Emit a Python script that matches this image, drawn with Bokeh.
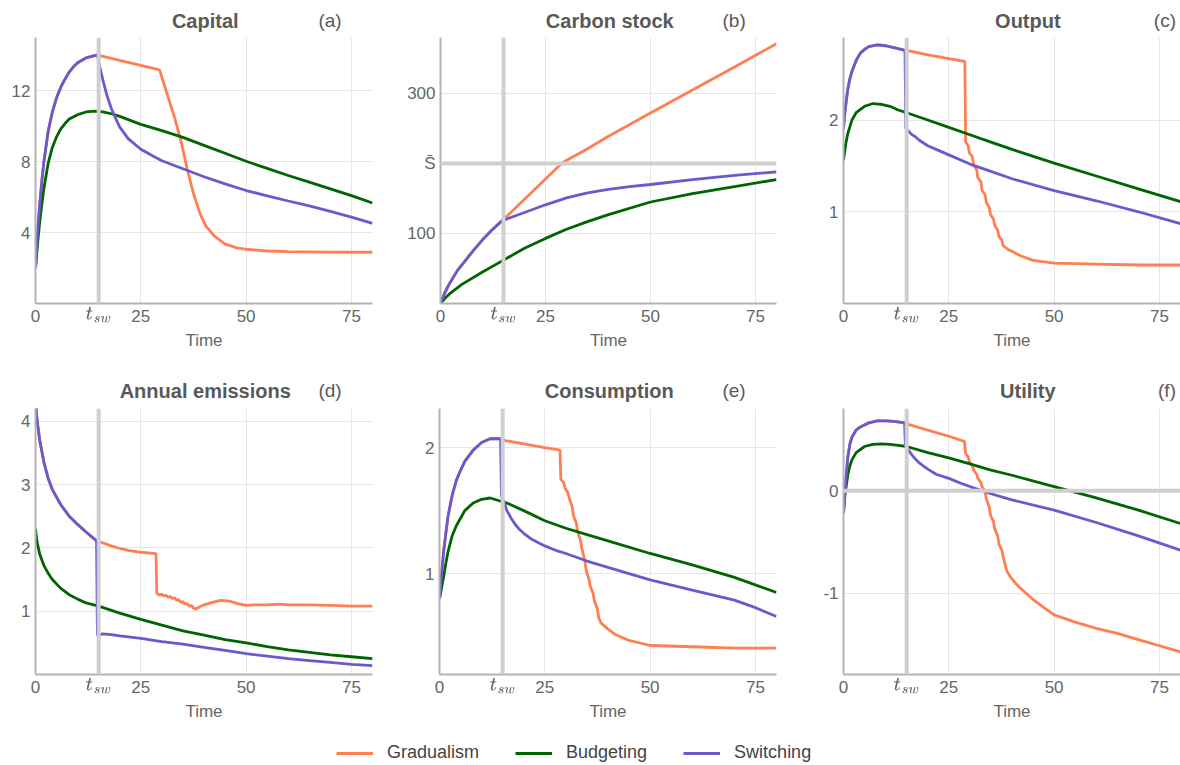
from bokeh.plotting import figure
from bokeh.models import Span, Label, FixedTicker, Legend, LegendItem, TeX
from bokeh.layouts import column, row
from bokeh.embed import file_html
from bokeh.resources import INLINE

FONT = "Liberation Sans"
C_G = "#ff7f50"
C_B = "#006400"
C_S = "#6a5acd"
GREY_TXT = "#595959"
TICK_TXT = "#666666"
T_SW = 15
X_TICKS = [0, 15, 25, 50, 75]
SERIES = ["Gradualism", "Budgeting", "Switching"]

# ---------------- (a) Capital ----------------
cap_pre_t = [0, 0.5, 1, 1.5, 2, 3, 4, 5, 6, 7, 8, 9, 10, 12, 14, 14.6]
cap_pre = [2.0, 4.0, 5.6, 6.9, 8.0, 9.7, 10.8, 11.6, 12.2, 12.65, 13.05, 13.35, 13.58, 13.85, 13.98, 14.0]
cap_g_t = [16, 20, 25, 29, 29.5, 31, 33, 34.5, 36, 37.5, 39, 40.5, 42.5, 45, 48, 50, 55, 60, 70, 80]
cap_g = [13.94, 13.71, 13.43, 13.2, 13.15, 12.0, 10.5, 9.2, 7.6, 6.2, 5.1, 4.35, 3.8, 3.35, 3.12, 3.06, 2.96, 2.92, 2.9, 2.89]
cap_s_t = [14.8, 15.2, 16, 17, 18, 19, 20, 22, 25, 28, 30, 35, 40, 45, 50, 55, 60, 65, 70, 75, 80]
cap_s = [13.9, 13.4, 12.6, 11.7, 11.0, 10.45, 9.95, 9.3, 8.7, 8.3, 8.05, 7.6, 7.15, 6.75, 6.37, 6.07, 5.78, 5.5, 5.2, 4.87, 4.52]
cap_b_t = [0, 0.5, 1, 1.5, 2, 3, 4, 5, 6, 7, 8, 10, 12, 14, 16, 18, 20, 25, 30, 35, 40, 45, 50, 55, 60, 65, 70, 75, 80]
cap_b = [2.0, 3.4, 4.6, 5.6, 6.5, 7.9, 8.8, 9.4, 9.85, 10.15, 10.4, 10.65, 10.8, 10.85, 10.8, 10.7, 10.55, 10.1, 9.75, 9.37, 8.92, 8.47, 8.02, 7.62, 7.22, 6.84, 6.46, 6.08, 5.67]

# ---------------- (b) Carbon stock ----------------
car_pre_t = [0, 1, 2, 4, 6, 8, 10, 12, 14.6]
car_pre = [0, 15, 27, 47, 62, 77, 91, 103.5, 118]
car_g_t = [15, 20, 25, 29, 35, 40, 50, 60, 70, 80]
car_g = [120, 149, 178, 201, 221, 239, 272, 305, 338, 371]
car_s_t = [15, 20, 25, 30, 35, 40, 45, 50, 60, 70, 80]
car_s = [119, 130, 141, 151, 158, 163, 167, 170, 177, 183, 188]
car_b_t = [0, 1, 2, 5, 10, 15, 20, 25, 30, 35, 40, 50, 60, 70, 80]
car_b = [0, 7, 13, 27, 45, 62, 79, 93, 106, 117, 127, 145, 157, 167, 177]
S_BAR = 200

# ---------------- (c) Output ----------------
out_pre_t = [0, 0.25, 0.5, 1, 1.5, 2, 3, 4, 5, 6, 8, 10, 12, 14.6]
out_pre = [1.9, 2.05, 2.15, 2.33, 2.45, 2.53, 2.65, 2.73, 2.77, 2.8, 2.82, 2.81, 2.79, 2.76]
out_g_t = [15, 20, 25, 28.8, 29.0, 29.6, 29.9, 30.6, 30.9, 31.6, 31.9, 32.6, 32.9, 33.6, 33.9, 34.6, 34.9,
           35.6, 35.9, 36.6, 36.9, 37.6, 37.9, 38.5, 39, 40, 42, 45, 50, 60, 70, 80]
out_g = [2.76, 2.71, 2.67, 2.64, 1.76, 1.72, 1.64, 1.60, 1.51, 1.46, 1.37, 1.33, 1.23, 1.19, 1.10, 1.05, 0.97,
         0.92, 0.85, 0.80, 0.73, 0.69, 0.63, 0.61, 0.59, 0.57, 0.52, 0.47, 0.44, 0.43, 0.42, 0.42]
out_s_t = [14.8, 16, 17, 18, 20, 22, 25, 30, 35, 40, 50, 60, 70, 80]
out_s = [1.91, 1.85, 1.82, 1.78, 1.72, 1.68, 1.62, 1.52, 1.44, 1.36, 1.23, 1.12, 1.0, 0.87]
out_b_t = [0, 0.5, 1, 2, 3, 5, 7, 9, 11, 13, 15, 20, 25, 30, 35, 40, 50, 60, 70, 80]
out_b = [1.56, 1.73, 1.85, 2.0, 2.08, 2.15, 2.18, 2.17, 2.15, 2.11, 2.08, 2.0, 1.92, 1.84, 1.76, 1.68, 1.53, 1.39, 1.25, 1.11]

# ---------------- (d) Annual emissions ----------------
emi_pre_t = [0, 0.25, 0.5, 1, 2, 3, 4, 6, 8, 10, 12, 14.5]
emi_pre = [4.3, 4.1, 3.95, 3.7, 3.35, 3.1, 2.92, 2.68, 2.5, 2.37, 2.25, 2.11]
emi_g_t = [15, 18, 20, 22, 25, 28.6, 28.8, 29.5, 30, 30.5, 31, 31.5, 32, 32.5, 33, 33.5, 34, 34.5, 35, 35.5,
           36, 36.5, 37, 37.5, 38, 38.5, 39, 40, 42, 44, 46, 48, 50, 52, 55, 58, 60, 65, 70, 75, 80]
emi_g = [2.1, 2.03, 1.99, 1.96, 1.93, 1.91, 1.28, 1.25, 1.27, 1.24, 1.25, 1.22, 1.23, 1.20, 1.21, 1.17, 1.18, 1.14, 1.15, 1.11,
         1.12, 1.08, 1.09, 1.05, 1.03, 1.05, 1.07, 1.10, 1.14, 1.17, 1.16, 1.12, 1.09, 1.10, 1.10, 1.11, 1.10, 1.10, 1.09, 1.08, 1.08]
emi_s_t = [14.7, 16, 18, 20, 25, 30, 35, 40, 45, 50, 55, 60, 65, 70, 75, 80]
emi_s = [0.62, 0.64, 0.63, 0.61, 0.57, 0.52, 0.48, 0.43, 0.38, 0.33, 0.29, 0.25, 0.22, 0.19, 0.16, 0.14]
emi_b_t = [0, 0.25, 0.5, 1, 2, 3, 4, 6, 8, 10, 12, 15, 20, 25, 30, 35, 40, 45, 50, 55, 60, 65, 70, 75, 80]
emi_b = [2.3, 2.15, 2.05, 1.9, 1.72, 1.6, 1.5, 1.36, 1.26, 1.19, 1.13, 1.08, 0.97, 0.87, 0.78, 0.69, 0.62, 0.55, 0.5, 0.44, 0.39, 0.35, 0.31, 0.28, 0.25]

# ---------------- (e) Consumption ----------------
con_pre_t = [0, 0.25, 0.5, 1, 1.5, 2, 3, 4, 5, 6, 8, 10, 12, 14, 14.5]
con_pre = [0.8, 0.9, 1.0, 1.18, 1.32, 1.45, 1.62, 1.74, 1.82, 1.89, 1.98, 2.04, 2.07, 2.07, 2.07]
con_g_t = [15, 20, 25, 28.6, 28.8, 29.5, 29.8, 30.5, 30.8, 31.5, 31.8, 32.5, 32.8, 33.5, 33.8, 34.5, 34.8,
           35.5, 35.8, 36.5, 36.8, 37.5, 37.8, 38.3, 39, 40, 41.6, 45, 50, 60, 70, 80]
con_g = [2.06, 2.03, 2.0, 1.98, 1.75, 1.72, 1.68, 1.64, 1.60, 1.53, 1.46, 1.40, 1.33, 1.26, 1.20, 1.10, 1.03,
         0.95, 0.90, 0.84, 0.78, 0.72, 0.65, 0.61, 0.59, 0.56, 0.52, 0.47, 0.43, 0.42, 0.41, 0.41]
con_s_t = [14.7, 15.5, 16, 17, 18, 19, 20, 22, 25, 28, 30, 35, 40, 50, 60, 70, 75, 80]
con_s = [1.62, 1.55, 1.5, 1.44, 1.39, 1.35, 1.32, 1.27, 1.22, 1.18, 1.16, 1.1, 1.05, 0.95, 0.87, 0.79, 0.73, 0.66]
con_b_t = [0, 0.5, 1, 1.5, 2, 3, 4, 6, 8, 10, 12, 14, 16, 20, 25, 30, 35, 40, 50, 60, 70, 80]
con_b = [0.8, 0.89, 0.98, 1.08, 1.17, 1.3, 1.38, 1.5, 1.56, 1.59, 1.6, 1.58, 1.56, 1.5, 1.42, 1.36, 1.31, 1.26, 1.16, 1.07, 0.97, 0.85]

# ---------------- (f) Utility ----------------
uti_pre_t = [0, 0.25, 0.5, 1, 1.5, 2, 3, 4, 6, 8, 10, 12, 14.5]
uti_pre = [-0.22, -0.05, 0.07, 0.32, 0.45, 0.52, 0.59, 0.62, 0.66, 0.68, 0.68, 0.675, 0.66]
uti_g_t = [15, 20, 25, 28.7, 29.0, 29.6, 29.9, 30.6, 30.9, 31.6, 31.9, 32.6, 32.9, 33.6, 33.9, 34.6, 34.9,
           35.6, 35.9, 36.6, 36.9, 37.6, 37.9, 38.6, 39, 40, 41, 42, 45, 48, 50, 55, 60, 65, 70, 75, 80]
uti_g = [0.65, 0.59, 0.53, 0.48, 0.36, 0.33, 0.28, 0.24, 0.20, 0.16, 0.12, 0.08, 0.04, -0.01, -0.08, -0.16, -0.24,
         -0.30, -0.37, -0.44, -0.52, -0.58, -0.64, -0.76, -0.8, -0.86, -0.91, -0.95, -1.06, -1.15, -1.21, -1.28, -1.34, -1.39, -1.45, -1.51, -1.57]
uti_s_t = [14.7, 15.5, 16, 17, 18, 19, 20, 22, 25, 28, 30, 35, 40, 50, 60, 70, 80]
uti_s = [0.43, 0.39, 0.36, 0.31, 0.27, 0.24, 0.21, 0.16, 0.12, 0.07, 0.04, -0.03, -0.09, -0.19, -0.31, -0.44, -0.58]
uti_b_t = [0, 0.25, 0.5, 1, 1.5, 2, 3, 5, 7, 9, 11, 13, 15, 20, 25, 30, 35, 40, 50, 60, 70, 80]
uti_b = [-0.22, -0.08, 0.0, 0.15, 0.24, 0.3, 0.37, 0.43, 0.45, 0.455, 0.45, 0.44, 0.43, 0.37, 0.32, 0.26, 0.2, 0.15, 0.04, -0.07, -0.19, -0.32]


def header(title, letter, width, height):
    h = figure(width=width, height=height, x_range=(0, width), y_range=(0, height),
               toolbar_location=None, output_backend="svg",
               x_axis_location=None, y_axis_location=None, min_border=0)
    h.outline_line_color = None
    h.grid.visible = False
    yc = height - 20  # vertical centre of the title text, 20 px below the top
    h.add_layout(Label(x=35 + 337 / 2, y=yc, text=title, text_align="center",
                       text_baseline="middle", text_font=FONT, text_font_size="20px",
                       text_font_style="bold", text_color=GREY_TXT))
    h.add_layout(Label(x=367, y=yc, text=letter, text_align="right",
                       text_baseline="middle", text_font=FONT, text_font_size="19px",
                       text_color=GREY_TXT))
    return h


def make_panel(title, letter, pre_t, pre_v, g_t, g_v, s_t, s_v, b_t, b_v, yr, yticks,
               yover=None, hline=None, width=404, br=32, height=370, bt=37, bb=67):
    p = figure(width=width, height=height - bt, x_range=(0, 80), y_range=yr,
               toolbar_location=None, output_backend="svg",
               min_border_left=35, min_border_right=br, min_border_top=0, min_border_bottom=bb)
    p.outline_line_color = None
    p.background_fill_color = "white"

    p.xaxis.ticker = FixedTicker(ticks=X_TICKS)
    p.xaxis.major_label_overrides = {15: TeX(text=r"t_{sw}")}
    p.yaxis.ticker = FixedTicker(ticks=yticks)
    if yover:
        p.yaxis.major_label_overrides = yover
    for ax in (p.xaxis, p.yaxis):
        ax.axis_line_color = "#b3b3b3"
        ax.axis_line_width = 2
        ax.major_tick_line_color = None
        ax.minor_tick_line_color = None
        ax.major_tick_out = 0
        ax.major_tick_in = 0
        ax.minor_tick_out = 0
        ax.major_label_text_font = FONT
        ax.major_label_text_font_size = "17px"
        ax.major_label_text_color = TICK_TXT
    p.xaxis.major_label_standoff = 3
    p.yaxis.major_label_standoff = 5
    p.xaxis.axis_label = "Time"
    p.xaxis.axis_label_text_font = FONT
    p.xaxis.axis_label_text_font_size = "17px"
    p.xaxis.axis_label_text_font_style = "normal"
    p.xaxis.axis_label_text_color = TICK_TXT
    p.xaxis.axis_label_standoff = 2
    p.grid.grid_line_color = "#e6e6e6"
    p.grid.grid_line_width = 1

    p.add_layout(Span(location=T_SW, dimension="height", line_color="#cfcfcf", line_width=4))
    if hline is not None:
        p.add_layout(Span(location=hline, dimension="width", line_color="#cfcfcf", line_width=4))

    p.line(pre_t + g_t, pre_v + g_v, line_color=C_G, line_width=2.8)
    p.line(b_t, b_v, line_color=C_B, line_width=2.8)
    p.line(pre_t + s_t, pre_v + s_v, line_color=C_S, line_width=2.8)

    return column(header(title, letter, width, bt), p, spacing=0)


pa = make_panel("Capital", "(a)", cap_pre_t, cap_pre, cap_g_t, cap_g, cap_s_t, cap_s, cap_b_t, cap_b,
                (0, 15), [4, 8, 12])
pb = make_panel("Carbon stock", "(b)", car_pre_t, car_pre, car_g_t, car_g, car_s_t, car_s, car_b_t, car_b,
                (0, 380), [100, 200, 300], yover={200: "S\u0304"}, hline=S_BAR)
pc = make_panel("Output", "(c)", out_pre_t, out_pre, out_g_t, out_g, out_s_t, out_s, out_b_t, out_b,
                (0, 2.9), [1, 2], width=372, br=0)
pd = make_panel("Annual emissions", "(d)", emi_pre_t, emi_pre, emi_g_t, emi_g, emi_s_t, emi_s, emi_b_t, emi_b,
                (0, 4.2), [1, 2, 3, 4], height=360, bt=38, bb=56)
pe = make_panel("Consumption", "(e)", con_pre_t, con_pre, con_g_t, con_g, con_s_t, con_s, con_b_t, con_b,
                (0.2, 2.31), [1, 2], height=360, bt=38, bb=56)
pf = make_panel("Utility", "(f)", uti_pre_t, uti_pre, uti_g_t, uti_g, uti_s_t, uti_s, uti_b_t, uti_b,
                (-1.79, 0.8), [-1, 0], yover={-1: "-1"}, hline=0, width=372, br=0, height=360, bt=38, bb=56)

# legend strip
lf = figure(width=1180, height=35, x_range=(0, 1), y_range=(0, 1), toolbar_location=None,
            output_backend="svg", x_axis_location=None, y_axis_location=None, min_border=0)
lf.outline_line_color = None
lf.grid.visible = False
rs = [lf.line([-5, -4], [-5, -5], line_color=c, line_width=2.8) for c in (C_G, C_B, C_S)]
leg = Legend(items=[LegendItem(label=n, renderers=[r]) for n, r in zip(SERIES, rs)],
             orientation="horizontal", location=(336, 2), padding=0, margin=0,
             spacing=36, glyph_width=37, label_standoff=14,
             label_text_font=FONT, label_text_font_size="18px", label_text_color="#444444",
             border_line_color=None, background_fill_alpha=0)
lf.add_layout(leg)

layout = column(row(pa, pb, pc, spacing=0), row(pd, pe, pf, spacing=0), lf, spacing=0)
open("out.html", "w").write(file_html(layout, INLINE))
